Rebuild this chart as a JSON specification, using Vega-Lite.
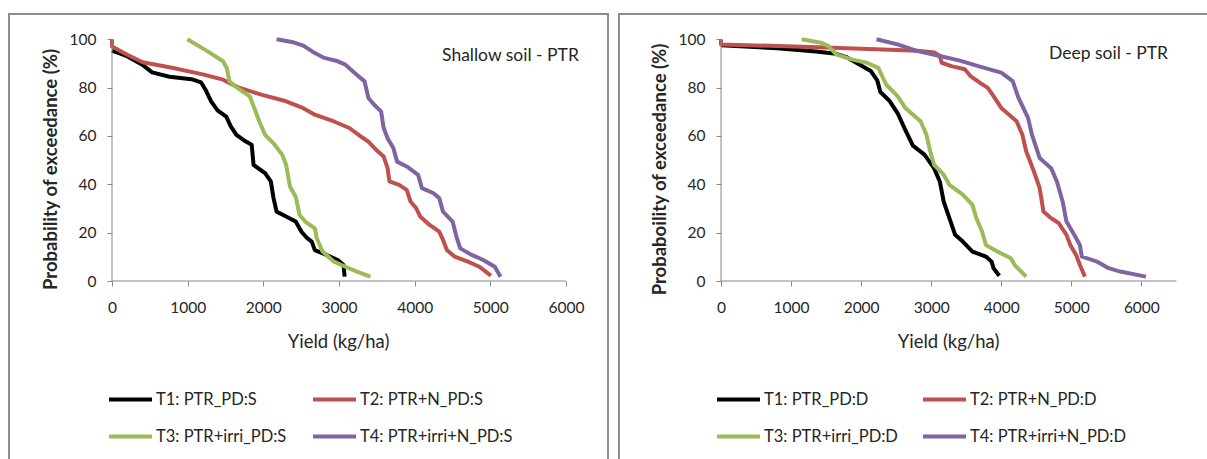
{
  "$schema": "https://vega.github.io/schema/vega-lite/v6.json",
  "background": "white",
  "padding": {"left": 8, "top": 13, "right": 0, "bottom": 0},
  "spacing": 11,
  "bounds": "flush",
  "config": {
    "font": "Lato",
    "view": {"stroke": "#8c8c8c", "strokeWidth": 2},
    "axis": {"grid": false, "domain": false, "tickColor": "#868686", "tickSize": 5, "labelFont": "Lato", "labelFontSize": 15.5, "labelColor": "#262626", "titleFont": "Lato", "titleColor": "#262626", "labelFlush": false, "labelOverlap": false, "format": "d"}
  },
  "resolve": {"scale": {"color": "independent", "x": "independent", "y": "independent"}, "legend": {"color": "independent"}},
  "datasets": {
    "S": [
      {"t": "T1: PTR_PD:S", "x": 0, "p": 95.3}, {"t": "T1: PTR_PD:S", "x": 200, "p": 93}, {"t": "T1: PTR_PD:S", "x": 395, "p": 89.6}, {"t": "T1: PTR_PD:S", "x": 530, "p": 86.3}, {"t": "T1: PTR_PD:S", "x": 760, "p": 84.5}, {"t": "T1: PTR_PD:S", "x": 1050, "p": 83.5}, {"t": "T1: PTR_PD:S", "x": 1176, "p": 82.2}, {"t": "T1: PTR_PD:S", "x": 1242, "p": 78.8}, {"t": "T1: PTR_PD:S", "x": 1310, "p": 74.3}, {"t": "T1: PTR_PD:S", "x": 1395, "p": 70.6}, {"t": "T1: PTR_PD:S", "x": 1510, "p": 68}, {"t": "T1: PTR_PD:S", "x": 1570, "p": 64}, {"t": "T1: PTR_PD:S", "x": 1644, "p": 60.5}, {"t": "T1: PTR_PD:S", "x": 1770, "p": 57.7}, {"t": "T1: PTR_PD:S", "x": 1846, "p": 56.4}, {"t": "T1: PTR_PD:S", "x": 1871, "p": 48}, {"t": "T1: PTR_PD:S", "x": 2023, "p": 44.6}, {"t": "T1: PTR_PD:S", "x": 2099, "p": 41.2}, {"t": "T1: PTR_PD:S", "x": 2135, "p": 34.3}, {"t": "T1: PTR_PD:S", "x": 2175, "p": 28.7}, {"t": "T1: PTR_PD:S", "x": 2301, "p": 26.7}, {"t": "T1: PTR_PD:S", "x": 2428, "p": 24.6}, {"t": "T1: PTR_PD:S", "x": 2504, "p": 20.4}, {"t": "T1: PTR_PD:S", "x": 2580, "p": 17.7}, {"t": "T1: PTR_PD:S", "x": 2640, "p": 16.3}, {"t": "T1: PTR_PD:S", "x": 2681, "p": 12.8}, {"t": "T1: PTR_PD:S", "x": 2832, "p": 10.8}, {"t": "T1: PTR_PD:S", "x": 2984, "p": 8.7}, {"t": "T1: PTR_PD:S", "x": 3060, "p": 6.6}, {"t": "T1: PTR_PD:S", "x": 3075, "p": 1.8},
      {"t": "T2: PTR+N_PD:S", "x": 0, "p": 100}, {"t": "T2: PTR+N_PD:S", "x": 0, "p": 97}, {"t": "T2: PTR+N_PD:S", "x": 202, "p": 93.6}, {"t": "T2: PTR+N_PD:S", "x": 405, "p": 90.5}, {"t": "T2: PTR+N_PD:S", "x": 809, "p": 88.1}, {"t": "T2: PTR+N_PD:S", "x": 1214, "p": 85.4}, {"t": "T2: PTR+N_PD:S", "x": 1467, "p": 83.3}, {"t": "T2: PTR+N_PD:S", "x": 1669, "p": 80.1}, {"t": "T2: PTR+N_PD:S", "x": 1973, "p": 77.1}, {"t": "T2: PTR+N_PD:S", "x": 2276, "p": 74.6}, {"t": "T2: PTR+N_PD:S", "x": 2529, "p": 71.5}, {"t": "T2: PTR+N_PD:S", "x": 2681, "p": 68.8}, {"t": "T2: PTR+N_PD:S", "x": 2934, "p": 66}, {"t": "T2: PTR+N_PD:S", "x": 3136, "p": 63.3}, {"t": "T2: PTR+N_PD:S", "x": 3288, "p": 59.8}, {"t": "T2: PTR+N_PD:S", "x": 3389, "p": 57.7}, {"t": "T2: PTR+N_PD:S", "x": 3490, "p": 54.3}, {"t": "T2: PTR+N_PD:S", "x": 3591, "p": 51.5}, {"t": "T2: PTR+N_PD:S", "x": 3642, "p": 46.7}, {"t": "T2: PTR+N_PD:S", "x": 3667, "p": 41.2}, {"t": "T2: PTR+N_PD:S", "x": 3794, "p": 39.8}, {"t": "T2: PTR+N_PD:S", "x": 3895, "p": 37.7}, {"t": "T2: PTR+N_PD:S", "x": 3945, "p": 32.9}, {"t": "T2: PTR+N_PD:S", "x": 4021, "p": 30.1}, {"t": "T2: PTR+N_PD:S", "x": 4072, "p": 26.7}, {"t": "T2: PTR+N_PD:S", "x": 4198, "p": 23.2}, {"t": "T2: PTR+N_PD:S", "x": 4325, "p": 20.4}, {"t": "T2: PTR+N_PD:S", "x": 4375, "p": 17}, {"t": "T2: PTR+N_PD:S", "x": 4426, "p": 12.8}, {"t": "T2: PTR+N_PD:S", "x": 4527, "p": 10.1}, {"t": "T2: PTR+N_PD:S", "x": 4704, "p": 8}, {"t": "T2: PTR+N_PD:S", "x": 4856, "p": 5.9}, {"t": "T2: PTR+N_PD:S", "x": 5008, "p": 2.2},
      {"t": "T3: PTR+irri_PD:S", "x": 996, "p": 100}, {"t": "T3: PTR+irri_PD:S", "x": 1265, "p": 95}, {"t": "T3: PTR+irri_PD:S", "x": 1467, "p": 90.9}, {"t": "T3: PTR+irri_PD:S", "x": 1517, "p": 88.1}, {"t": "T3: PTR+irri_PD:S", "x": 1553, "p": 82.6}, {"t": "T3: PTR+irri_PD:S", "x": 1669, "p": 79.6}, {"t": "T3: PTR+irri_PD:S", "x": 1821, "p": 76.4}, {"t": "T3: PTR+irri_PD:S", "x": 1897, "p": 70.2}, {"t": "T3: PTR+irri_PD:S", "x": 1947, "p": 66}, {"t": "T3: PTR+irri_PD:S", "x": 2023, "p": 60.5}, {"t": "T3: PTR+irri_PD:S", "x": 2150, "p": 56.4}, {"t": "T3: PTR+irri_PD:S", "x": 2251, "p": 52.2}, {"t": "T3: PTR+irri_PD:S", "x": 2301, "p": 48.1}, {"t": "T3: PTR+irri_PD:S", "x": 2352, "p": 39.1}, {"t": "T3: PTR+irri_PD:S", "x": 2428, "p": 34.9}, {"t": "T3: PTR+irri_PD:S", "x": 2479, "p": 27.3}, {"t": "T3: PTR+irri_PD:S", "x": 2554, "p": 24.6}, {"t": "T3: PTR+irri_PD:S", "x": 2681, "p": 21.8}, {"t": "T3: PTR+irri_PD:S", "x": 2706, "p": 17.7}, {"t": "T3: PTR+irri_PD:S", "x": 2782, "p": 12.2}, {"t": "T3: PTR+irri_PD:S", "x": 2934, "p": 8}, {"t": "T3: PTR+irri_PD:S", "x": 3085, "p": 5.9}, {"t": "T3: PTR+irri_PD:S", "x": 3237, "p": 3.9}, {"t": "T3: PTR+irri_PD:S", "x": 3414, "p": 1.8},
      {"t": "T4: PTR+irri+N_PD:S", "x": 2175, "p": 100}, {"t": "T4: PTR+irri+N_PD:S", "x": 2377, "p": 98.9}, {"t": "T4: PTR+irri+N_PD:S", "x": 2529, "p": 97.4}, {"t": "T4: PTR+irri+N_PD:S", "x": 2681, "p": 94.3}, {"t": "T4: PTR+irri+N_PD:S", "x": 2807, "p": 92.3}, {"t": "T4: PTR+irri+N_PD:S", "x": 2984, "p": 90.9}, {"t": "T4: PTR+irri+N_PD:S", "x": 3085, "p": 89.5}, {"t": "T4: PTR+irri+N_PD:S", "x": 3212, "p": 86}, {"t": "T4: PTR+irri+N_PD:S", "x": 3338, "p": 82.6}, {"t": "T4: PTR+irri+N_PD:S", "x": 3389, "p": 75.7}, {"t": "T4: PTR+irri+N_PD:S", "x": 3465, "p": 72.9}, {"t": "T4: PTR+irri+N_PD:S", "x": 3556, "p": 70.2}, {"t": "T4: PTR+irri+N_PD:S", "x": 3591, "p": 63.3}, {"t": "T4: PTR+irri+N_PD:S", "x": 3642, "p": 59.1}, {"t": "T4: PTR+irri+N_PD:S", "x": 3718, "p": 55}, {"t": "T4: PTR+irri+N_PD:S", "x": 3768, "p": 49.4}, {"t": "T4: PTR+irri+N_PD:S", "x": 3895, "p": 47.4}, {"t": "T4: PTR+irri+N_PD:S", "x": 4046, "p": 43.9}, {"t": "T4: PTR+irri+N_PD:S", "x": 4097, "p": 38.4}, {"t": "T4: PTR+irri+N_PD:S", "x": 4249, "p": 36.3}, {"t": "T4: PTR+irri+N_PD:S", "x": 4325, "p": 34.3}, {"t": "T4: PTR+irri+N_PD:S", "x": 4375, "p": 28.7}, {"t": "T4: PTR+irri+N_PD:S", "x": 4502, "p": 24.6}, {"t": "T4: PTR+irri+N_PD:S", "x": 4552, "p": 18.4}, {"t": "T4: PTR+irri+N_PD:S", "x": 4603, "p": 13.5}, {"t": "T4: PTR+irri+N_PD:S", "x": 4755, "p": 10.8}, {"t": "T4: PTR+irri+N_PD:S", "x": 4907, "p": 8.7}, {"t": "T4: PTR+irri+N_PD:S", "x": 5059, "p": 5.9}, {"t": "T4: PTR+irri+N_PD:S", "x": 5135, "p": 1.8}
    ],
    "D": [
      {"t": "T1: PTR_PD:D", "x": 0, "p": 97.5}, {"t": "T1: PTR_PD:D", "x": 800, "p": 96.3}, {"t": "T1: PTR_PD:D", "x": 1356, "p": 95}, {"t": "T1: PTR_PD:D", "x": 1641, "p": 94}, {"t": "T1: PTR_PD:D", "x": 1800, "p": 92.5}, {"t": "T1: PTR_PD:D", "x": 1950, "p": 90}, {"t": "T1: PTR_PD:D", "x": 2137, "p": 86.9}, {"t": "T1: PTR_PD:D", "x": 2230, "p": 83}, {"t": "T1: PTR_PD:D", "x": 2275, "p": 78.2}, {"t": "T1: PTR_PD:D", "x": 2403, "p": 74.6}, {"t": "T1: PTR_PD:D", "x": 2520, "p": 69.5}, {"t": "T1: PTR_PD:D", "x": 2630, "p": 62.5}, {"t": "T1: PTR_PD:D", "x": 2739, "p": 56}, {"t": "T1: PTR_PD:D", "x": 2904, "p": 52.3}, {"t": "T1: PTR_PD:D", "x": 3041, "p": 46.7}, {"t": "T1: PTR_PD:D", "x": 3123, "p": 41.2}, {"t": "T1: PTR_PD:D", "x": 3178, "p": 32.9}, {"t": "T1: PTR_PD:D", "x": 3260, "p": 26}, {"t": "T1: PTR_PD:D", "x": 3342, "p": 19.1}, {"t": "T1: PTR_PD:D", "x": 3452, "p": 16.3}, {"t": "T1: PTR_PD:D", "x": 3589, "p": 12.2}, {"t": "T1: PTR_PD:D", "x": 3781, "p": 10.1}, {"t": "T1: PTR_PD:D", "x": 3863, "p": 8}, {"t": "T1: PTR_PD:D", "x": 3890, "p": 5.3}, {"t": "T1: PTR_PD:D", "x": 3972, "p": 2.2},
      {"t": "T2: PTR+N_PD:D", "x": 0, "p": 100}, {"t": "T2: PTR+N_PD:D", "x": 0, "p": 97.9}, {"t": "T2: PTR+N_PD:D", "x": 1500, "p": 96.6}, {"t": "T2: PTR+N_PD:D", "x": 2800, "p": 95.3}, {"t": "T2: PTR+N_PD:D", "x": 3050, "p": 94.5}, {"t": "T2: PTR+N_PD:D", "x": 3123, "p": 93.1}, {"t": "T2: PTR+N_PD:D", "x": 3150, "p": 90.3}, {"t": "T2: PTR+N_PD:D", "x": 3287, "p": 88.9}, {"t": "T2: PTR+N_PD:D", "x": 3479, "p": 87.6}, {"t": "T2: PTR+N_PD:D", "x": 3561, "p": 84.8}, {"t": "T2: PTR+N_PD:D", "x": 3698, "p": 82}, {"t": "T2: PTR+N_PD:D", "x": 3808, "p": 79.9}, {"t": "T2: PTR+N_PD:D", "x": 3890, "p": 76.5}, {"t": "T2: PTR+N_PD:D", "x": 4000, "p": 71.6}, {"t": "T2: PTR+N_PD:D", "x": 4137, "p": 68.2}, {"t": "T2: PTR+N_PD:D", "x": 4219, "p": 66.1}, {"t": "T2: PTR+N_PD:D", "x": 4301, "p": 60.6}, {"t": "T2: PTR+N_PD:D", "x": 4356, "p": 53.7}, {"t": "T2: PTR+N_PD:D", "x": 4465, "p": 45.4}, {"t": "T2: PTR+N_PD:D", "x": 4548, "p": 38.5}, {"t": "T2: PTR+N_PD:D", "x": 4602, "p": 28.8}, {"t": "T2: PTR+N_PD:D", "x": 4712, "p": 26}, {"t": "T2: PTR+N_PD:D", "x": 4822, "p": 23.9}, {"t": "T2: PTR+N_PD:D", "x": 4931, "p": 19.1}, {"t": "T2: PTR+N_PD:D", "x": 4986, "p": 14.9}, {"t": "T2: PTR+N_PD:D", "x": 5068, "p": 10.8}, {"t": "T2: PTR+N_PD:D", "x": 5123, "p": 6.6}, {"t": "T2: PTR+N_PD:D", "x": 5194, "p": 1.8},
      {"t": "T3: PTR+irri_PD:D", "x": 1151, "p": 100}, {"t": "T3: PTR+irri_PD:D", "x": 1425, "p": 98.6}, {"t": "T3: PTR+irri_PD:D", "x": 1534, "p": 97.2}, {"t": "T3: PTR+irri_PD:D", "x": 1644, "p": 93.8}, {"t": "T3: PTR+irri_PD:D", "x": 1863, "p": 91.7}, {"t": "T3: PTR+irri_PD:D", "x": 2082, "p": 90.3}, {"t": "T3: PTR+irri_PD:D", "x": 2246, "p": 88.2}, {"t": "T3: PTR+irri_PD:D", "x": 2356, "p": 81.3}, {"t": "T3: PTR+irri_PD:D", "x": 2520, "p": 76.5}, {"t": "T3: PTR+irri_PD:D", "x": 2630, "p": 71.6}, {"t": "T3: PTR+irri_PD:D", "x": 2849, "p": 66.1}, {"t": "T3: PTR+irri_PD:D", "x": 2931, "p": 60.6}, {"t": "T3: PTR+irri_PD:D", "x": 2986, "p": 53.7}, {"t": "T3: PTR+irri_PD:D", "x": 3041, "p": 48.1}, {"t": "T3: PTR+irri_PD:D", "x": 3178, "p": 44}, {"t": "T3: PTR+irri_PD:D", "x": 3260, "p": 39.8}, {"t": "T3: PTR+irri_PD:D", "x": 3452, "p": 35.7}, {"t": "T3: PTR+irri_PD:D", "x": 3589, "p": 31.5}, {"t": "T3: PTR+irri_PD:D", "x": 3644, "p": 26}, {"t": "T3: PTR+irri_PD:D", "x": 3726, "p": 20.5}, {"t": "T3: PTR+irri_PD:D", "x": 3781, "p": 14.9}, {"t": "T3: PTR+irri_PD:D", "x": 3945, "p": 12.2}, {"t": "T3: PTR+irri_PD:D", "x": 4137, "p": 9.4}, {"t": "T3: PTR+irri_PD:D", "x": 4192, "p": 6.6}, {"t": "T3: PTR+irri_PD:D", "x": 4356, "p": 1.8},
      {"t": "T4: PTR+irri+N_PD:D", "x": 2219, "p": 100}, {"t": "T4: PTR+irri+N_PD:D", "x": 2520, "p": 97.9}, {"t": "T4: PTR+irri+N_PD:D", "x": 2794, "p": 95.2}, {"t": "T4: PTR+irri+N_PD:D", "x": 3123, "p": 93.1}, {"t": "T4: PTR+irri+N_PD:D", "x": 3397, "p": 91.3}, {"t": "T4: PTR+irri+N_PD:D", "x": 3671, "p": 88.9}, {"t": "T4: PTR+irri+N_PD:D", "x": 4000, "p": 86.2}, {"t": "T4: PTR+irri+N_PD:D", "x": 4164, "p": 82.7}, {"t": "T4: PTR+irri+N_PD:D", "x": 4246, "p": 75.8}, {"t": "T4: PTR+irri+N_PD:D", "x": 4383, "p": 67.5}, {"t": "T4: PTR+irri+N_PD:D", "x": 4438, "p": 60.6}, {"t": "T4: PTR+irri+N_PD:D", "x": 4548, "p": 50.9}, {"t": "T4: PTR+irri+N_PD:D", "x": 4712, "p": 46.7}, {"t": "T4: PTR+irri+N_PD:D", "x": 4794, "p": 41.2}, {"t": "T4: PTR+irri+N_PD:D", "x": 4876, "p": 32.9}, {"t": "T4: PTR+irri+N_PD:D", "x": 4931, "p": 24.6}, {"t": "T4: PTR+irri+N_PD:D", "x": 5041, "p": 19.1}, {"t": "T4: PTR+irri+N_PD:D", "x": 5123, "p": 14.9}, {"t": "T4: PTR+irri+N_PD:D", "x": 5150, "p": 10.1}, {"t": "T4: PTR+irri+N_PD:D", "x": 5369, "p": 8}, {"t": "T4: PTR+irri+N_PD:D", "x": 5534, "p": 5.3}, {"t": "T4: PTR+irri+N_PD:D", "x": 5698, "p": 3.9}, {"t": "T4: PTR+irri+N_PD:D", "x": 6066, "p": 1.8}
    ]
  },
  "hconcat": [
    {
      "width": 599,
      "height": 460,
      "layer": [
        {
          "data": {"name": "S"},
          "mark": {"type": "line", "strokeWidth": 4, "strokeJoin": "round"},
          "encoding": {
            "x": {"field": "x", "type": "quantitative", "scale": {"domain": [-1361.4, 6555.6], "nice": false, "zero": false},
              "axis": {"values": [0, 1000, 2000, 3000, 4000, 5000, 6000], "offset": -193, "labelPadding": 14, "title": "Yield (kg/ha)", "titleFontSize": 18.5, "titleFontWeight": "normal", "titleX": 329, "titleY": 60, "titleBaseline": "middle", "titleAlign": "center"}},
            "y": {"field": "p", "type": "quantitative", "scale": {"domain": [-79.85, 110.47], "nice": false, "zero": false},
              "axis": {"values": [0, 20, 40, 60, 80, 100], "offset": -103, "labelPadding": 11, "title": "Probability of exceedance (%)", "titleFontSize": 18.5, "titleFontWeight": "bold", "titleX": -62, "titleY": 155, "titleAngle": -90, "titleBaseline": "middle", "titleAlign": "center"}},
            "color": {"field": "t", "type": "nominal",
              "scale": {"domain": ["T1: PTR_PD:S", "T2: PTR+N_PD:S", "T3: PTR+irri_PD:S", "T4: PTR+irri+N_PD:S"], "range": ["#000000", "#C0504D", "#9BBB59", "#8064A2"]},
              "legend": {"orient": "none", "direction": "horizontal", "legendX": 98, "legendY": 362, "columns": 2, "symbolType": "stroke", "symbolStrokeWidth": 4, "symbolSize": 1849, "labelFont": "Lato", "labelFontSize": 16.5, "labelColor": "#262626", "labelOffset": 2, "columnPadding": 18, "rowPadding": 5, "padding": 0, "title": null, "labelLimit": 0}},
            "order": {"field": "p", "type": "quantitative", "sort": "descending"}
          }
        },
        {
          "data": {"values": [{}]},
          "mark": {"type": "rule", "color": "#868686", "strokeWidth": 1},
          "encoding": {"x": {"datum": 0, "type": "quantitative"}, "x2": {"datum": 6000}, "y": {"datum": 0, "type": "quantitative"}}
        },
        {
          "data": {"values": [{}]},
          "mark": {"type": "rule", "color": "#868686", "strokeWidth": 1},
          "encoding": {"x": {"datum": 0, "type": "quantitative"}, "y": {"datum": 0, "type": "quantitative"}, "y2": {"datum": 100}}
        },
        {
          "data": {"values": [{}]},
          "mark": {"type": "text", "text": "Shallow soil - PTR", "font": "Lato", "fontSize": 17.5, "color": "#262626", "align": "left", "baseline": "middle"},
          "encoding": {"x": {"datum": 4362, "type": "quantitative"}, "y": {"datum": 93.1, "type": "quantitative"}}
        }
      ]
    },
    {
      "width": 599,
      "height": 460,
      "layer": [
        {
          "data": {"name": "D"},
          "mark": {"type": "line", "strokeWidth": 4, "strokeJoin": "round"},
          "encoding": {
            "x": {"field": "x", "type": "quantitative", "scale": {"domain": [-1455.9, 7093.9], "nice": false, "zero": false},
              "axis": {"values": [0, 1000, 2000, 3000, 4000, 5000, 6000], "offset": -193, "labelPadding": 14, "title": "Yield (kg/ha)", "titleFontSize": 18.5, "titleFontWeight": "normal", "titleX": 329, "titleY": 60, "titleBaseline": "middle", "titleAlign": "center"}},
            "y": {"field": "p", "type": "quantitative", "scale": {"domain": [-79.85, 110.47], "nice": false, "zero": false},
              "axis": {"values": [0, 20, 40, 60, 80, 100], "offset": -102, "labelPadding": 11, "title": "Probaboility of exceedance (%)", "titleFontSize": 18.5, "titleFontWeight": "bold", "titleX": -62, "titleY": 155, "titleAngle": -90, "titleBaseline": "middle", "titleAlign": "center"}},
            "color": {"field": "t", "type": "nominal",
              "scale": {"domain": ["T1: PTR_PD:D", "T2: PTR+N_PD:D", "T3: PTR+irri_PD:D", "T4: PTR+irri+N_PD:D"], "range": ["#000000", "#C0504D", "#9BBB59", "#8064A2"]},
              "legend": {"orient": "none", "direction": "horizontal", "legendX": 96, "legendY": 362, "columns": 2, "symbolType": "stroke", "symbolStrokeWidth": 4, "symbolSize": 1849, "labelFont": "Lato", "labelFontSize": 16.5, "labelColor": "#262626", "labelOffset": 2, "columnPadding": 17, "rowPadding": 5, "padding": 0, "title": null, "labelLimit": 0}},
            "order": {"field": "p", "type": "quantitative", "sort": "descending"}
          }
        },
        {
          "data": {"values": [{}]},
          "mark": {"type": "rule", "color": "#868686", "strokeWidth": 1},
          "encoding": {"x": {"datum": 0, "type": "quantitative"}, "x2": {"datum": 6500}, "y": {"datum": 0, "type": "quantitative"}}
        },
        {
          "data": {"values": [{}]},
          "mark": {"type": "rule", "color": "#868686", "strokeWidth": 1},
          "encoding": {"x": {"datum": 0, "type": "quantitative"}, "y": {"datum": 0, "type": "quantitative"}, "y2": {"datum": 100}}
        },
        {
          "data": {"values": [{}]},
          "mark": {"type": "text", "text": "Deep soil - PTR", "font": "Lato", "fontSize": 17.5, "color": "#262626", "align": "left", "baseline": "middle"},
          "encoding": {"x": {"datum": 4682, "type": "quantitative"}, "y": {"datum": 93.9, "type": "quantitative"}}
        }
      ]
    }
  ]
}
